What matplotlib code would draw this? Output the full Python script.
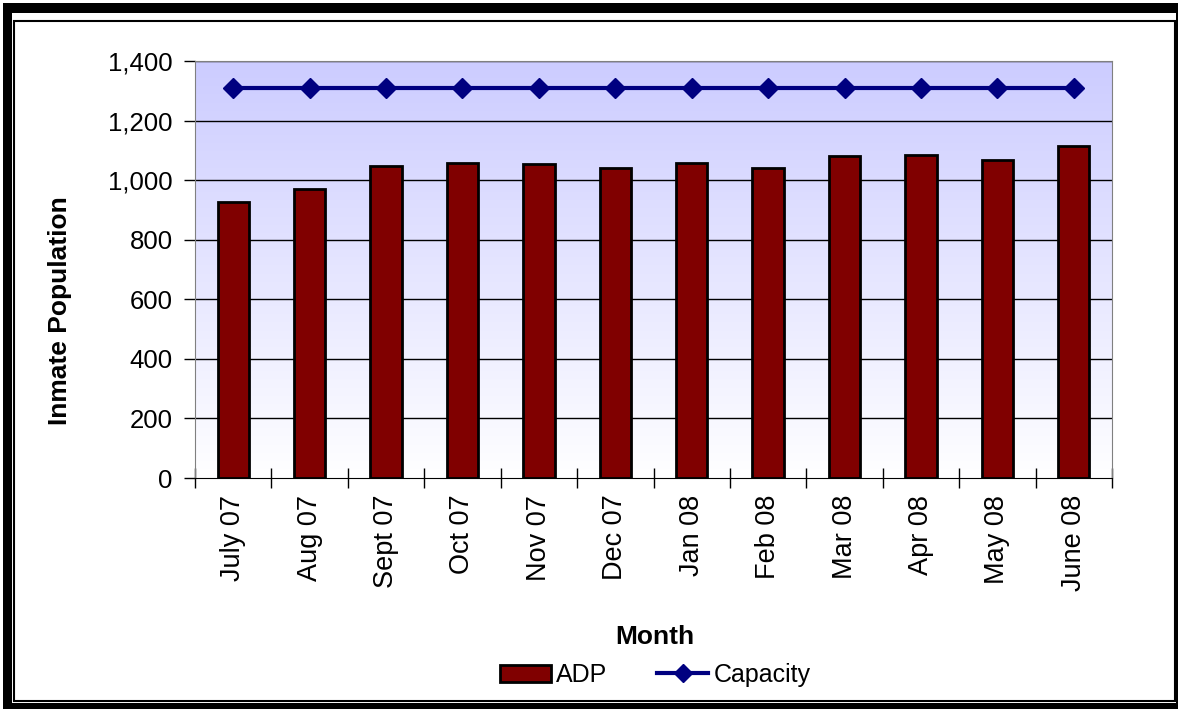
import numpy as np
import matplotlib.pyplot as plt
from matplotlib.patches import Rectangle
from matplotlib.lines import Line2D

plt.rcParams['font.family'] = ['Liberation Sans', 'DejaVu Sans']

months = ['July 07', 'Aug 07', 'Sept 07', 'Oct 07', 'Nov 07', 'Dec 07',
          'Jan 08', 'Feb 08', 'Mar 08', 'Apr 08', 'May 08', 'June 08']
adp = [925, 971, 1047, 1056, 1053, 1042, 1056, 1042, 1082, 1086, 1068, 1113]
capacity = [1310] * 12
yticks = [0, 200, 400, 600, 800, 1000, 1200, 1400]

W, H = 1178, 709
fig = plt.figure(figsize=(W / 100, H / 100), dpi=100)
ax = fig.add_axes([195 / W, 1 - 478 / H, (1112 - 195) / W, (478 - 61) / H])

x = np.arange(len(months))
ax.set_xlim(-0.5, len(months) - 0.5)
ax.set_ylim(0, 1400)

# lavender-to-white plot area fill
grad = np.linspace(1, 0, 256).reshape(-1, 1)
top = np.array([0.80, 0.80, 1.0])
img = np.ones((256, 1, 3)) - grad[..., None] * (1 - top)
ax.imshow(img[::-1], extent=[-0.5, len(months) - 0.5, 0, 1400],
          aspect='auto', origin='lower', zorder=0)

for yv in yticks[1:]:
    ax.axhline(yv, color='black', lw=1, zorder=1)

ax.bar(x, adp, width=0.41, color='#800000', edgecolor='black', lw=2, zorder=2)
ax.plot(x, capacity, color='#000080', lw=3, marker='D', markersize=10, zorder=3)

ax.set_yticks(yticks)
ax.set_yticklabels([f'{v:,}' for v in yticks], fontsize=18.5)
ax.set_xticks(np.arange(-0.5, len(months), 1), minor=False)
ax.set_xticklabels([])
ax.set_xticks(x, minor=True)
ax.set_xticklabels(months, minor=True, rotation=90, fontsize=19.5)
ax.tick_params(axis='x', which='major', direction='inout', length=14, width=1)
ax.tick_params(axis='x', which='minor', length=0, pad=12)
ax.tick_params(axis='y', direction='out', length=8, width=1, pad=8)

for s in ['top', 'right']:
    ax.spines[s].set_color('#808080')
ax.spines['left'].set_color('#808080')
ax.spines['bottom'].set_color('black')

fig.text(60 / W, 1 - 311 / H, 'Inmate Population', rotation=90, fontsize=19,
         fontweight='bold', ha='center', va='center')
fig.text(655 / W, 1 - 637 / H, 'Month', fontsize=19, fontweight='bold',
         ha='center', va='center')

handles = [Rectangle((0, 0), 1, 1, facecolor='#800000', edgecolor='black', lw=2),
           Line2D([], [], color='#000080', lw=3, marker='D', markersize=9)]
fig.legend(handles, ['ADP', 'Capacity'], loc='center', ncol=2,
           bbox_to_anchor=(655 / W, 1 - 675 / H), frameon=False, fontsize=18,
           handlelength=2.05, handletextpad=0.2, columnspacing=2.0)

# double frame around the whole chart
fig.patches.append(Rectangle((3 / W, 0), 1 - 3 / W, 1 - 3 / H, transform=fig.transFigure,
                             facecolor='black', edgecolor='none', zorder=-3))
fig.patches.append(Rectangle((12 / W, 6 / H), (1176 - 12) / W, (706 - 10 - 6) / H,
                             transform=fig.transFigure, facecolor='white',
                             edgecolor='none', zorder=-2))
fig.patches.append(Rectangle((14 / W, 8 / H), (1175 - 14) / W, (701 - 13 - 8) / H,
                             transform=fig.transFigure, facecolor='white',
                             edgecolor='black', lw=1.5, zorder=-1))

fig.savefig('out.png', dpi=100)
